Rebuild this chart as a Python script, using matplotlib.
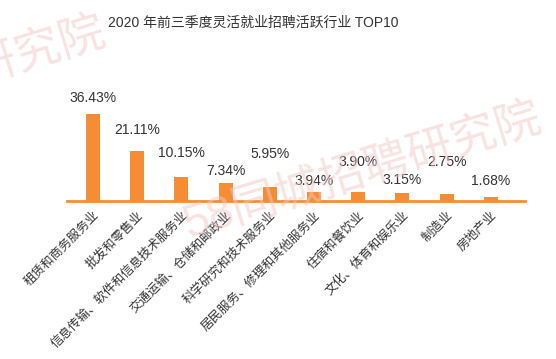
import matplotlib
matplotlib.use('Agg')
import matplotlib.pyplot as plt

# 行业与占比
industries = ['租赁和商务服务业', '批发和零售业', '信息传输、软件和信息技术服务业',
              '交通运输、仓储和邮政业', '科学研究和技术服务业', '居民服务、修理和其他服务业',
              '住宿和餐饮业', '文化、体育和娱乐业', '制造业', '房地产业']
shares = [36.43, 21.11, 10.15, 7.34, 5.95, 3.94, 3.90, 3.15, 2.75, 1.68]
value_labels = ['36.43%', '21.11%', '10.15%', '7.34%', '5.95%',
                '3.94%', '3.90%', '3.15%', '2.75%', '1.68%']
# 标签离柱顶的距离(像素)
label_gap = [16, 21, 24, 12, 33, 11, 30, 13, 32, 16]

fonts = ['Liberation Sans', 'Noto Sans CJK SC', 'DejaVu Sans']
plt.rcParams['font.family'] = fonts

orange = '#f68c34'
txt = '#333333'

fig = plt.figure(figsize=(5.56, 3.59), dpi=100)

# 水印
fig.text(0.32, 0.31, '58同城招聘研究院', fontsize=33, color='#f3c6c6', alpha=0.5,
         rotation=17, ha='left', va='bottom', zorder=0)
fig.text(0.20, 0.97, '58同城招聘研究院', fontsize=33, color='#f3c6c6', alpha=0.5,
         rotation=17, ha='right', va='top', zorder=0)

ax = fig.add_axes([67 / 556, 1 - 201 / 359, 458 / 556, 141 / 359])
ax.patch.set_alpha(0)

x = list(range(len(shares)))
ax.bar(x, shares, width=0.32, color=orange, zorder=3)

for i, v in enumerate(shares):
    ax.annotate(value_labels[i], (i, v), xytext=(0, label_gap[i]),
                textcoords='offset pixels', ha='center', va='center',
                fontsize=10, color=txt)

ax.set_xlim(-0.588, 9.774)
ax.set_ylim(0, 59)
ax.set_yticks([])
for s in ['top', 'right', 'left']:
    ax.spines[s].set_visible(False)
ax.spines['bottom'].set_color(orange)
ax.spines['bottom'].set_linewidth(2)

ax.set_xticks(x)
ax.set_xticklabels(industries, rotation=45, ha='right', va='top',
                   rotation_mode='anchor', fontsize=9, color=txt)
ax.tick_params(axis='x', length=0, pad=6)

fig.text(253 / 556, 1 - 23 / 359, '2020 年前三季度灵活就业招聘活跃行业 TOP10',
         ha='center', va='center', fontsize=10, color=txt)

fig.savefig('out.png', dpi=100)
